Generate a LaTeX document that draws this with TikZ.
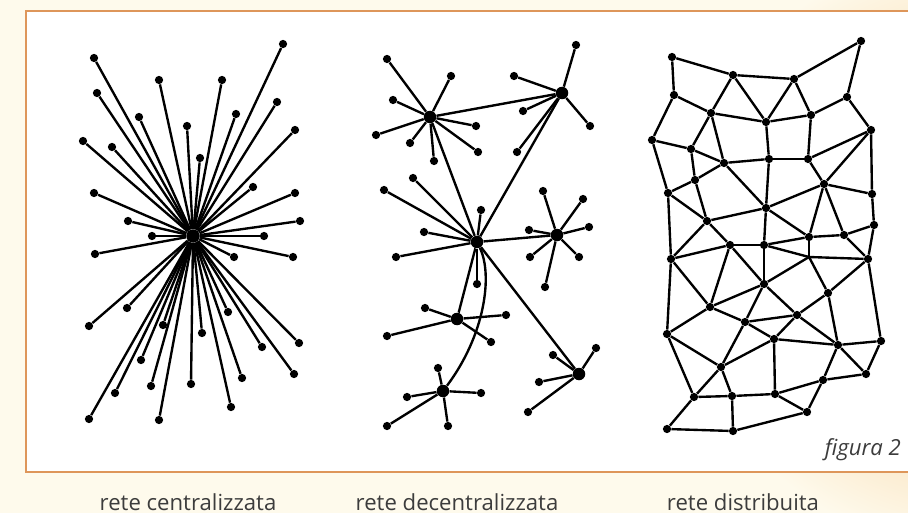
\documentclass[tikz,border=0pt]{standalone}
\usepackage{fontspec}
\setmainfont{Open Sans}
\usetikzlibrary{positioning}
\definecolor{bgcream}{RGB}{254, 250, 236}
\definecolor{glowcolor}{RGB}{244, 190, 120}
\definecolor{framecolor}{RGB}{222, 150, 90}
\definecolor{captioncolor}{RGB}{60, 60, 60}
\tikzset{
    % Dots
    leaf/.style={circle, fill=black, inner sep=0pt, minimum size=0.165cm},
    hub/.style={circle, fill=black, inner sep=0pt, minimum size=0.25cm},
    % Lines
    link/.style={line width=1.35pt, black},
    % Frame and texts
    panel/.style={fill=white, draw=framecolor, line width=1.2pt},
    caption/.style={font=\fontsize{12.6}{15}\selectfont, text=captioncolor, anchor=base},
    figlabel/.style={font=\fontsize{12.6}{15}\selectfont\itshape, text=captioncolor, anchor=base east},
}
\begin{document}
\begin{tikzpicture}[x=0.02cm, y=-0.02cm]

\useasboundingbox (0,0) rectangle (908,513);
\clip (0,0) rectangle (908,513);

% Background and frame
\fill[bgcream] (0,0) rectangle (908,513);
\shade[inner color=glowcolor, outer color=bgcream] (975,250) circle (300);
\draw[panel] (26,11) rectangle (920,472);

% Centralized network
\node (chub) [hub, minimum size=0.27cm] at (193,236) {};
\foreach \x/\y [count=\i] in {94/58, 283/44, 159/80, 222/80, 97/93, 277/102, 139/117,
    236/114, 187/126, 295/130, 83/141, 112/147, 200/158, 253/187, 94/193, 295/193,
    128/221, 300/221, 152/236, 264/236, 95/254, 234/257, 293/257, 127/308, 228/312,
    89/326, 163/325, 202/333, 262/347, 299/343, 141/360, 242/378, 294/374, 151/386,
    191/384, 115/393, 231/407, 89/419, 159/420} {
    \node (c\i) [leaf] at (\x,\y) {};
    \draw[link] (chub) -- (c\i);
}

% Decentralized network: hubs
\node (hubA) [hub] at (430,117) {};
\node (hubB) [hub] at (562,93) {};
\node (hubC) [hub] at (477,242) {};
\node (hubD) [hub] at (557,235) {};
\node (hubE) [hub] at (457,319) {};
\node (hubF) [hub] at (443,391) {};
\node (hubG) [hub] at (579,374) {};

% Decentralized network: leaves
\foreach \x/\y [count=\i] in {387/59, 451/76, 393/100, 376/135, 410/143, 434/161, 476/126, 478/152} {
    \node (a\i) [leaf] at (\x,\y) {};
    \draw[link] (hubA) -- (a\i);
}
\foreach \x/\y [count=\i] in {576/45, 514/76, 523/111, 590/126, 517/152} {
    \node (b\i) [leaf] at (\x,\y) {};
    \draw[link] (hubB) -- (b\i);
}
\foreach \x/\y [count=\i] in {384/190, 413/178, 481/210, 424/232, 396/257, 477/284} {
    \node (d\i) [leaf] at (\x,\y) {};
    \draw[link] (hubC) -- (d\i);
}
\foreach \x/\y [count=\i] in {543/191, 583/199, 589/227, 529/230, 530/257, 579/257, 545/287} {
    \node (e\i) [leaf] at (\x,\y) {};
    \draw[link] (hubD) -- (e\i);
}
\foreach \x/\y [count=\i] in {425/308, 506/315, 387/336, 491/342} {
    \node (f\i) [leaf] at (\x,\y) {};
    \draw[link] (hubE) -- (f\i);
}
\foreach \x/\y [count=\i] in {438/368, 407/397, 481/393, 387/426, 448/426} {
    \node (g\i) [leaf] at (\x,\y) {};
    \draw[link] (hubF) -- (g\i);
}
\foreach \x/\y [count=\i] in {553/355, 596/348, 539/382, 528/412} {
    \node (h\i) [leaf] at (\x,\y) {};
    \draw[link] (hubG) -- (h\i);
}

% Decentralized network: hub links
\draw[link] (hubA) -- (hubB);
\draw[link] (hubA) -- (hubC);
\draw[link] (hubB) -- (hubC);
\draw[link] (hubC) -- (hubD);
\draw[link] (hubC) -- (hubE);
\draw[link] (hubC) -- (hubG);
\draw[link] (hubC) .. controls (493,275) and (485,335) .. (hubF);

% Distributed network
\foreach \x/\y [count=\i] in {672/57, 733/75, 794/79, 861/41, 674/95, 711/113, 766/122,
    811/115, 847/97, 871/130, 652/140, 691/149, 724/163, 769/159, 808/159, 695/180,
    824/184, 668/193, 872/194, 707/221, 766/208, 874/225, 809/237, 844/235, 730/245,
    764/245, 671/259, 868/259, 764/284, 828/293, 710/307, 797/315, 745/322, 667/334,
    774/339, 838/345, 881/341, 721/367, 866/374, 823/380, 694/397, 732/396, 775/394,
    807/412, 667/429, 733/431}
    \node (m\i) [leaf] at (\x,\y) {};
\coordinate (mjoin) at (809,257);

\foreach \a/\b in {1/2, 2/3, 3/4, 4/9, 1/5, 5/6, 2/6, 2/7, 3/7, 3/8, 6/7, 7/8, 8/9, 9/10,
    5/11, 6/12, 6/13, 11/12, 12/13, 7/14, 13/14, 14/15, 8/15, 10/15, 10/17, 10/19, 15/17,
    12/16, 13/16, 11/18, 16/18, 16/20, 18/20, 13/21, 14/21, 17/21, 17/19, 17/23, 17/24,
    19/22, 21/23, 20/21, 23/24, 22/24, 18/27, 20/27, 20/25, 21/26, 22/28, 24/28, 26/23,
    25/26, 25/27, 25/31, 25/29, 26/29, 27/31, 27/34, 29/31, 29/33, 29/32, 28/30, 28/37,
    30/32, 30/36, 31/33, 31/34, 32/33, 32/35, 32/36, 33/35, 33/38, 34/38, 34/41, 35/38,
    35/36, 35/43, 36/37, 36/39, 36/40, 37/39, 38/41, 38/42, 41/42, 41/45, 42/46, 42/43,
    43/40, 40/39, 43/44, 40/44, 44/46, 45/46, 23/join, 26/join, 28/join, 29/join, 30/join}
    \draw[link] (m\a) -- (m\b);

% Captions
\node (figtag) [figlabel] at (907,455) {figura 2};
\node (capC) [caption] at (188,510) {rete centralizzata};
\node (capD) [caption] at (457,510) {rete decentralizzata};
\node (capM) [caption] at (743,510) {rete distribuita};

\end{tikzpicture}
\end{document}
